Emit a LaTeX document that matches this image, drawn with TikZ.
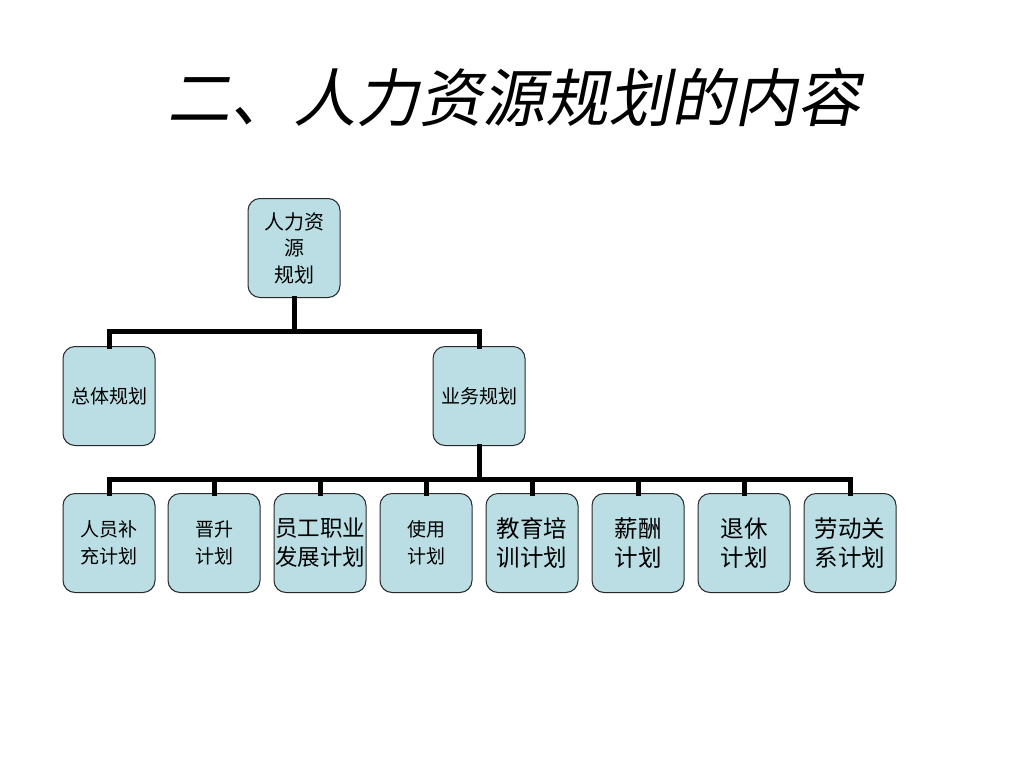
\documentclass[tikz,border=0pt]{standalone}
\usepackage{fontspec}
\setmainfont{Noto Sans CJK SC}
\newfontfamily\titlefont[FakeSlant=0.2]{Noto Sans CJK SC}
\usepackage{tikz}
\usetikzlibrary{positioning,calc}
\usepackage{xcolor}
\definecolor{hrteal}{RGB}{186,222,227}
\definecolor{hredge}{RGB}{40,40,40}
\tikzstyle{planbox} = [rectangle, rounded corners=12pt, minimum width=92pt, minimum height=99pt, inner sep=0pt, align=center, draw=hredge, fill=hrteal, line width=1pt, font=\fontsize{19}{27}\selectfont]
\tikzstyle{bigtext} = [font=\fontsize{23.5}{29}\selectfont]
\tikzstyle{branch} = [line width=5pt, line cap=rect, color=black]

\begin{document}
\begin{tikzpicture}[x=1pt, y=-1pt]
    \useasboundingbox (0,0) rectangle (1024,768);
    % Title
    \node[font=\titlefont\fontsize{63}{63}\selectfont, inner sep=0pt] (title) at (514,97) {二、人力资源规划的内容};

    % Nodes
    \node[planbox, font=\fontsize{20}{26.5}\selectfont] (hr) at (294,248) {人力资\\源\\规划};
    \node[planbox] (overall) at (109,396) {总体规划};
    \node[planbox] (business) at (479,396) {业务规划};
    \node[planbox] (staff) at (109,543) {人员补\\充计划};
    \node[planbox] (promote) at (214,543) {晋升\\计划};
    \node[planbox, font=\fontsize{22.5}{29}\selectfont] (career) at (320,543) {员工职业\\发展计划};
    \node[planbox] (use) at (426,543) {使用\\计划};
    \node[planbox, bigtext] (train) at (532,543) {教育培\\训计划};
    \node[planbox, bigtext] (pay) at (638,543) {薪酬\\计划};
    \node[planbox, bigtext] (retire) at (744,543) {退休\\计划};
    \node[planbox, bigtext] (labor) at (850,543) {劳动关\\系计划};

    % Lines
    \draw[branch] (hr.south) -- ++(0,33) -| (overall.north);
    \draw[branch] (hr.south) ++(0,33) -| (business.north);
    \foreach \k in {staff,promote,career,use,train,pay,retire,labor}
        \draw[branch] (business.south) -- ++(0,33) -| (\k.north);
\end{tikzpicture}
\end{document}
